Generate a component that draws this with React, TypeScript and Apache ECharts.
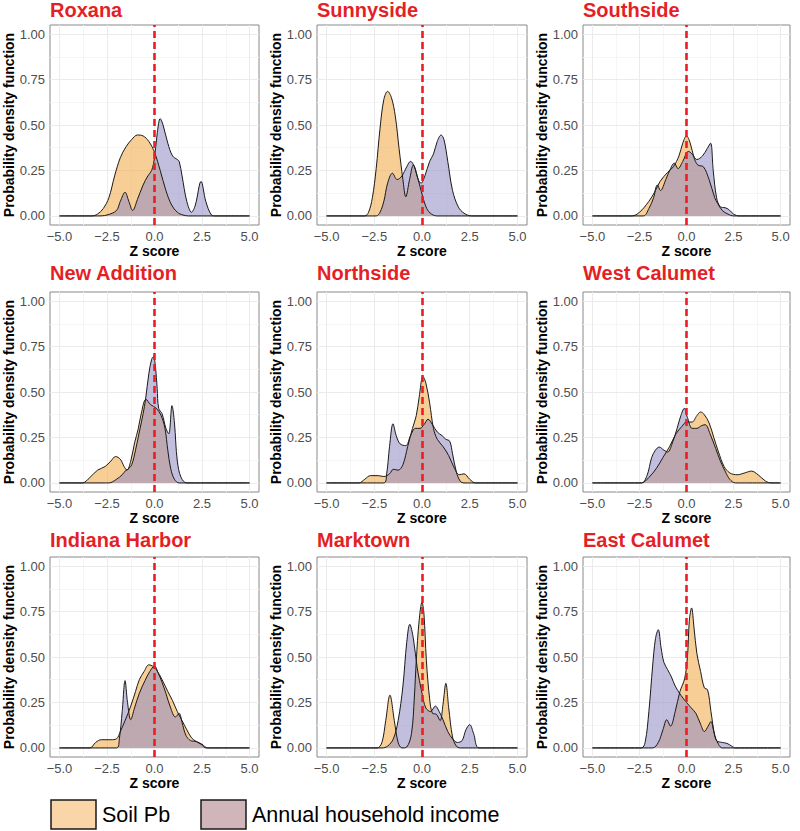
import React, { useEffect, useRef } from 'react';
import * as echarts from 'echarts';

const FONT = '"Liberation Sans", Arial, Helvetica, sans-serif';

const panelNames = ['Roxana', 'Sunnyside', 'Southside', 'New Addition', 'Northside', 'West Calumet', 'Indiana Harbor', 'Marktown', 'East Calumet'];
const legendLabels = ['Soil Pb', 'Annual household income'];
const xTicks = [-5, -2.5, 0, 2.5, 5];
const xMinorTicks = [-3.75, -1.25, 1.25, 3.75];
const yTicks = [0, 0.25, 0.5, 0.75, 1];
const yMinorTicks = [0.125, 0.375, 0.625, 0.875];
const referenceZ = 0;

// Soil Pb / income density curves, [z score, density]
const roxanaSoil = [[-5, 0], [-3.3, 0], [-3.0, 0.01], [-2.7, 0.04], [-2.4, 0.1], [-2.1, 0.22], [-1.8, 0.32], [-1.5, 0.38], [-1.2, 0.42], [-0.9, 0.445], [-0.6, 0.44], [-0.3, 0.41], [0, 0.35], [0.3, 0.25], [0.6, 0.14], [0.9, 0.06], [1.2, 0.02], [1.5, 0.005], [1.8, 0], [5, 0]];
const roxanaIncome = [[-5, 0], [-3.0, 0], [-2.5, 0.005], [-2.0, 0.03], [-1.8, 0.08], [-1.55, 0.13], [-1.35, 0.08], [-1.15, 0.03], [-0.9, 0.09], [-0.6, 0.17], [-0.35, 0.22], [-0.15, 0.25], [0, 0.32], [0.15, 0.46], [0.3, 0.535], [0.45, 0.5], [0.7, 0.4], [0.95, 0.33], [1.2, 0.31], [1.3, 0.3], [1.45, 0.22], [1.7, 0.08], [1.95, 0.02], [2.15, 0.06], [2.45, 0.19], [2.7, 0.08], [3.0, 0.005], [3.2, 0], [5, 0]];

const sunnysideSoil = [[-5, 0], [-3.0, 0], [-2.8, 0.02], [-2.6, 0.1], [-2.4, 0.26], [-2.2, 0.48], [-2.0, 0.64], [-1.8, 0.685], [-1.6, 0.65], [-1.4, 0.55], [-1.2, 0.37], [-1.0, 0.2], [-0.85, 0.105], [-0.65, 0.2], [-0.45, 0.28], [-0.25, 0.22], [0, 0.12], [0.25, 0.04], [0.5, 0.01], [0.8, 0], [5, 0]];
const sunnysideIncome = [[-5, 0], [-2.4, 0], [-2.2, 0.02], [-2.0, 0.08], [-1.8, 0.18], [-1.55, 0.235], [-1.3, 0.2], [-1.05, 0.22], [-0.8, 0.27], [-0.6, 0.3], [-0.4, 0.27], [-0.2, 0.2], [-0.05, 0.18], [0.15, 0.22], [0.4, 0.3], [0.6, 0.34], [0.8, 0.41], [1.0, 0.445], [1.15, 0.42], [1.35, 0.3], [1.6, 0.14], [1.9, 0.05], [2.2, 0.015], [2.6, 0], [5, 0]];

const southsideSoil = [[-5, 0], [-2.9, 0], [-2.5, 0.02], [-2.0, 0.08], [-1.7, 0.13], [-1.4, 0.19], [-1.0, 0.24], [-0.7, 0.27], [-0.4, 0.33], [-0.2, 0.4], [0, 0.44], [0.2, 0.4], [0.4, 0.32], [0.6, 0.28], [0.9, 0.27], [1.2, 0.2], [1.5, 0.1], [1.65, 0.07], [1.9, 0.03], [2.2, 0.01], [2.5, 0], [5, 0]];
const southsideIncome = [[-5, 0], [-2.3, 0], [-2.0, 0.04], [-1.75, 0.1], [-1.55, 0.17], [-1.38, 0.14], [-1.1, 0.2], [-0.85, 0.26], [-0.65, 0.29], [-0.45, 0.26], [-0.2, 0.3], [0.1, 0.355], [0.3, 0.34], [0.55, 0.31], [0.85, 0.33], [1.1, 0.37], [1.28, 0.4], [1.42, 0.25], [1.6, 0.1], [1.8, 0.05], [2.05, 0.045], [2.25, 0.035], [2.5, 0.01], [2.8, 0], [5, 0]];

const newAdditionSoil = [[-5, 0], [-3.8, 0], [-3.4, 0.03], [-3.0, 0.07], [-2.6, 0.09], [-2.3, 0.12], [-2.05, 0.145], [-1.8, 0.13], [-1.6, 0.09], [-1.45, 0.07], [-1.25, 0.12], [-1.05, 0.22], [-0.85, 0.3], [-0.7, 0.38], [-0.45, 0.46], [-0.2, 0.43], [0.1, 0.41], [0.35, 0.37], [0.55, 0.3], [0.7, 0.18], [0.85, 0.08], [1.05, 0.02], [1.3, 0], [5, 0]];
const newAdditionIncome = [[-5, 0], [-2.4, 0], [-2.0, 0.02], [-1.7, 0.045], [-1.5, 0.07], [-1.4, 0.075], [-1.2, 0.1], [-1.0, 0.18], [-0.8, 0.28], [-0.6, 0.38], [-0.47, 0.46], [-0.3, 0.6], [-0.15, 0.68], [-0.05, 0.695], [0.05, 0.64], [0.14, 0.52], [0.22, 0.41], [0.4, 0.38], [0.6, 0.3], [0.75, 0.27], [0.92, 0.425], [1.05, 0.33], [1.2, 0.12], [1.4, 0.03], [1.7, 0], [5, 0]];

const northsideSoil = [[-5, 0], [-3.3, 0], [-3.0, 0.02], [-2.7, 0.04], [-2.3, 0.04], [-2.0, 0.035], [-1.7, 0.05], [-1.5, 0.075], [-1.25, 0.07], [-1.0, 0.1], [-0.75, 0.2], [-0.5, 0.3], [-0.3, 0.37], [-0.15, 0.47], [0.05, 0.585], [0.2, 0.55], [0.4, 0.44], [0.6, 0.3], [0.8, 0.24], [1.1, 0.2], [1.4, 0.15], [1.7, 0.08], [1.95, 0.045], [2.2, 0.05], [2.5, 0.02], [2.8, 0], [5, 0]];
const northsideIncome = [[-5, 0], [-2.0, 0], [-1.85, 0.05], [-1.7, 0.2], [-1.52, 0.325], [-1.35, 0.26], [-1.15, 0.215], [-0.85, 0.205], [-0.6, 0.26], [-0.35, 0.3], [-0.1, 0.3], [0.1, 0.32], [0.32, 0.35], [0.55, 0.32], [0.8, 0.28], [1.05, 0.26], [1.25, 0.24], [1.45, 0.23], [1.6, 0.16], [1.8, 0.06], [2.0, 0.01], [2.2, 0], [5, 0]];

const westCalumetSoil = [[-5, 0], [-2.4, 0], [-2.0, 0.03], [-1.6, 0.08], [-1.25, 0.14], [-0.9, 0.2], [-0.56, 0.27], [-0.25, 0.31], [0, 0.335], [0.3, 0.335], [0.55, 0.37], [0.75, 0.39], [0.95, 0.375], [1.2, 0.33], [1.45, 0.25], [1.7, 0.17], [2.0, 0.09], [2.3, 0.055], [2.7, 0.045], [3.1, 0.055], [3.45, 0.065], [3.8, 0.045], [4.2, 0.01], [4.5, 0], [5, 0]];
const westCalumetIncome = [[-5, 0], [-2.4, 0], [-2.1, 0.04], [-1.85, 0.14], [-1.65, 0.18], [-1.45, 0.197], [-1.2, 0.18], [-1.0, 0.17], [-0.75, 0.22], [-0.5, 0.3], [-0.3, 0.37], [-0.12, 0.41], [0.05, 0.36], [0.3, 0.3], [0.55, 0.3], [0.8, 0.315], [1.0, 0.32], [1.25, 0.27], [1.55, 0.19], [1.8, 0.12], [2.05, 0.065], [2.3, 0.02], [2.6, 0], [5, 0]];

const indianaHarborSoil = [[-5, 0], [-3.4, 0], [-3.1, 0.03], [-2.8, 0.045], [-2.3, 0.045], [-2.0, 0.05], [-1.8, 0.09], [-1.55, 0.15], [-1.25, 0.23], [-1.0, 0.31], [-0.8, 0.375], [-0.55, 0.42], [-0.3, 0.457], [-0.1, 0.45], [0.1, 0.43], [0.4, 0.375], [0.7, 0.31], [0.95, 0.26], [1.2, 0.2], [1.45, 0.15], [1.7, 0.1], [1.95, 0.055], [2.2, 0.035], [2.45, 0.02], [2.7, 0], [5, 0]];
const indianaHarborIncome = [[-5, 0], [-2.0, 0], [-1.85, 0.05], [-1.7, 0.2], [-1.55, 0.37], [-1.42, 0.25], [-1.25, 0.155], [-1.05, 0.22], [-0.8, 0.3], [-0.5, 0.37], [-0.25, 0.42], [0, 0.45], [0.2, 0.41], [0.4, 0.36], [0.6, 0.3], [0.85, 0.22], [1.1, 0.17], [1.3, 0.19], [1.45, 0.14], [1.65, 0.07], [1.9, 0.04], [2.2, 0.035], [2.5, 0.02], [2.8, 0], [5, 0]];

const marktownSoil = [[-5, 0], [-2.35, 0], [-2.1, 0.03], [-1.9, 0.15], [-1.68, 0.29], [-1.45, 0.15], [-1.25, 0.03], [-1.05, 0], [-0.8, 0.005], [-0.55, 0.08], [-0.4, 0.28], [-0.3, 0.48], [-0.15, 0.7], [0, 0.8], [0.1, 0.74], [0.23, 0.48], [0.4, 0.27], [0.55, 0.19], [0.75, 0.185], [0.95, 0.15], [1.1, 0.24], [1.25, 0.355], [1.4, 0.22], [1.6, 0.06], [1.8, 0.01], [2.0, 0], [5, 0]];
const marktownIncome = [[-5, 0], [-2.1, 0], [-1.8, 0.01], [-1.5, 0.05], [-1.25, 0.15], [-1.0, 0.34], [-0.8, 0.58], [-0.64, 0.68], [-0.45, 0.6], [-0.25, 0.44], [0, 0.3], [0.2, 0.22], [0.45, 0.2], [0.7, 0.23], [0.9, 0.2], [1.1, 0.155], [1.35, 0.09], [1.6, 0.05], [1.85, 0.03], [2.1, 0.04], [2.3, 0.1], [2.5, 0.128], [2.7, 0.08], [3.0, 0], [5, 0]];

const eastCalumetSoil = [[-5, 0], [-1.8, 0], [-1.5, 0.03], [-1.25, 0.1], [-1.05, 0.155], [-0.85, 0.12], [-0.6, 0.2], [-0.35, 0.31], [-0.1, 0.38], [0.05, 0.5], [0.15, 0.7], [0.27, 0.77], [0.4, 0.66], [0.55, 0.52], [0.75, 0.42], [0.95, 0.33], [1.12, 0.32], [1.3, 0.2], [1.5, 0.07], [1.7, 0.02], [1.9, 0], [5, 0]];
const eastCalumetIncome = [[-5, 0], [-2.4, 0], [-2.2, 0.03], [-2.0, 0.2], [-1.8, 0.45], [-1.65, 0.6], [-1.5, 0.65], [-1.35, 0.55], [-1.2, 0.47], [-1.0, 0.43], [-0.8, 0.39], [-0.6, 0.34], [-0.3, 0.29], [0, 0.25], [0.25, 0.22], [0.5, 0.19], [0.75, 0.13], [0.95, 0.09], [1.15, 0.12], [1.3, 0.145], [1.45, 0.09], [1.6, 0.04], [1.9, 0.03], [2.15, 0.025], [2.4, 0.01], [2.6, 0], [5, 0]];

const soilSeries = [roxanaSoil, sunnysideSoil, southsideSoil, newAdditionSoil, northsideSoil, westCalumetSoil, indianaHarborSoil, marktownSoil, eastCalumetSoil];
const incomeSeries = [roxanaIncome, sunnysideIncome, southsideIncome, newAdditionIncome, northsideIncome, westCalumetIncome, indianaHarborIncome, marktownIncome, eastCalumetIncome];

const X_MIN = -5.5, X_MAX = 5.5, Y_MIN = -0.05, Y_MAX = 1.05;
const SOIL_FILL = 'rgba(241,171,72,0.58)';
const INCOME_FILL = 'rgba(150,143,196,0.58)';

const gridLefts = [50, 317, 583];
const gridWidths = [209, 210, 207];
const gridTops = [25, 292, 557];
const titleTops = [0, 263, 530];

function fmtX(v: number) {
  const s = Math.abs(v).toFixed(1);
  return v < 0 ? '\u2212' + s : s;
}

function buildOption() {
  const grid: any[] = [], xAxis: any[] = [], yAxis: any[] = [], series: any[] = [], title: any[] = [];
  panelNames.forEach((name, i) => {
    const r = Math.floor(i / 3), c = i % 3;
    grid.push({ left: gridLefts[c], top: gridTops[r], width: gridWidths[c], height: 200, show: true, borderColor: '#888888', borderWidth: 1, backgroundColor: '#ffffff' });
    title.push({ text: name, left: gridLefts[c], top: titleTops[r], padding: 0, textStyle: { color: '#E41F26', fontSize: 20, fontWeight: 'bold', fontFamily: FONT } });
    xAxis.push({
      type: 'value', gridIndex: i, min: X_MIN, max: X_MAX,
      name: 'Z score', nameLocation: 'middle', nameGap: 17,
      nameTextStyle: { color: '#000', fontSize: 14, fontWeight: 'bold', fontFamily: FONT },
      axisLine: { show: false },
      axisTick: { show: true, length: 3, lineStyle: { color: '#333' }, customValues: xTicks },
      axisLabel: { customValues: xTicks, formatter: (v: number) => fmtX(v), color: '#4D4D4D', fontSize: 13, margin: 5, fontFamily: FONT },
      splitLine: { show: false },
    });
    yAxis.push({
      type: 'value', gridIndex: i, min: Y_MIN, max: Y_MAX,
      name: 'Probability density function', nameLocation: 'middle', nameGap: 33, nameRotate: 90,
      nameTextStyle: { color: '#000', fontSize: 14, fontWeight: 'bold', fontFamily: FONT },
      axisLine: { show: false },
      axisTick: { show: true, length: 3, lineStyle: { color: '#333' }, customValues: yTicks },
      axisLabel: { customValues: yTicks, formatter: (v: number) => v.toFixed(2), color: '#4D4D4D', fontSize: 13, margin: 5, fontFamily: FONT },
      splitLine: { show: false },
    });
    const gl: any[] = [];
    const major = { color: '#EBEBEB', width: 1, type: 'solid' };
    const minor = { color: '#F5F5F5', width: 1, type: 'solid' };
    xMinorTicks.forEach((x) => gl.push([{ coord: [x, Y_MIN], lineStyle: minor }, { coord: [x, Y_MAX] }]));
    yMinorTicks.forEach((y) => gl.push([{ coord: [X_MIN, y], lineStyle: minor }, { coord: [X_MAX, y] }]));
    xTicks.forEach((x) => gl.push([{ coord: [x, Y_MIN], lineStyle: major }, { coord: [x, Y_MAX] }]));
    yTicks.forEach((y) => gl.push([{ coord: [X_MIN, y], lineStyle: major }, { coord: [X_MAX, y] }]));
    series.push({
      type: 'line', xAxisIndex: i, yAxisIndex: i, data: [], z: 1, silent: true,
      markLine: { silent: true, z: 1, symbol: ['none', 'none'], label: { show: false }, emphasis: { disabled: true }, data: gl },
    });
    const curve = (data: number[][], fill: string, nm: string) => ({
      type: 'line', name: nm, xAxisIndex: i, yAxisIndex: i, data, z: 2,
      smooth: 0.35, showSymbol: false, symbol: 'none', silent: true,
      lineStyle: { color: '#1a1a1a', width: 1 },
      areaStyle: { color: fill, opacity: 1 },
    });
    series.push(curve(soilSeries[i], SOIL_FILL, legendLabels[0]));
    series.push(curve(incomeSeries[i], INCOME_FILL, legendLabels[1]));
    series.push({
      type: 'line', xAxisIndex: i, yAxisIndex: i, data: [], z: 5, silent: true,
      markLine: {
        silent: true, z: 5, symbol: ['none', 'none'], label: { show: false }, emphasis: { disabled: true },
        lineStyle: { color: '#EE1C25', width: 2.6, type: [7, 4] },
        data: [[{ coord: [referenceZ, Y_MIN] }, { coord: [referenceZ, Y_MAX] }]],
      },
    });
  });

  const graphic = [
    { type: 'rect', shape: { x: 51, y: 800, width: 45, height: 29 }, style: { fill: '#F9D5A8', stroke: '#1a1a1a', lineWidth: 1.5 } },
    { type: 'text', x: 102, y: 815, style: { text: legendLabels[0], fontSize: 21.5, fontFamily: FONT, fill: '#000', verticalAlign: 'middle' } },
    { type: 'rect', shape: { x: 201, y: 800, width: 45, height: 29 }, style: { fill: '#D0B5BB', stroke: '#1a1a1a', lineWidth: 1.5 } },
    { type: 'text', x: 252, y: 815, style: { text: legendLabels[1], fontSize: 21.5, fontFamily: FONT, fill: '#000', verticalAlign: 'middle' } },
  ];

  return { animation: false, backgroundColor: '#ffffff', title, grid, xAxis, yAxis, series, graphic };
}

export default function App() {
  const ref = useRef<HTMLDivElement>(null);
  useEffect(() => {
    if (!ref.current) return;
    const chart = echarts.init(ref.current, null, { renderer: 'svg' });
    chart.setOption(buildOption() as any);
    return () => chart.dispose();
  }, []);
  return <div ref={ref} style={{ position: 'absolute', left: 0, top: 0, width: 800, height: 831 }} />;
}
